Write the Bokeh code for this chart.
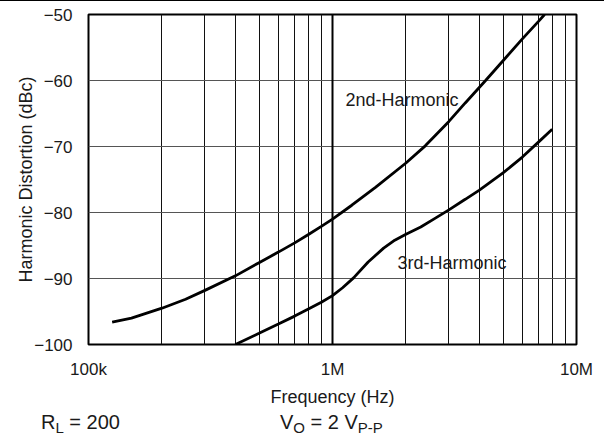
from bokeh.plotting import figure
from bokeh.models import FixedTicker, Label, Grid, Div
from bokeh.layouts import column
from bokeh.embed import file_html
from bokeh.resources import INLINE

# ---- data ----
freq_2nd = [125e3, 150e3, 200e3, 250e3, 300e3, 400e3, 500e3, 600e3, 700e3, 800e3, 900e3,
            1e6, 1.2e6, 1.5e6, 2e6, 2.4e6, 3e6, 3.5e6, 4.24e6, 5e6, 6e6, 7e6, 7.4e6]
hd2_dbc = [-96.6, -96.0, -94.5, -93.15, -91.8, -89.6, -87.6, -86.0, -84.6, -83.3, -82.1,
           -81.0, -78.9, -76.2, -72.5, -69.9, -66.2, -63.4, -60.0, -57.0, -53.7, -51.0, -50.0]

freq_3rd = [400e3, 500e3, 600e3, 700e3, 800e3, 900e3, 1e6, 1.1e6, 1.22e6, 1.4e6, 1.62e6,
            1.8e6, 2e6, 2.3e6, 2.6e6, 3e6, 3.5e6, 4e6, 5e6, 6e6, 7e6, 7.95e6]
hd3_dbc = [-100.0, -98.3, -96.9, -95.7, -94.6, -93.6, -92.6, -91.4, -89.9, -87.5, -85.4,
           -84.2, -83.3, -82.2, -81.0, -79.6, -78.0, -76.6, -74.0, -71.6, -69.3, -67.4]

x_ticks = [1e5, 1e6, 1e7]
x_tick_labels = ["100k", "1M", "10M"]
y_ticks = [-100, -90, -80, -70, -60, -50]
y_tick_labels = ["\u2212100", "\u221290", "\u221280", "\u221270", "\u221260", "\u221250"]
x_grid_ticks = [m * 10 ** e for e in (5, 6) for m in range(1, 10)] + [1e7]
x_major_grid = [1e6]
y_grid_ticks = [-90, -80, -70, -60]

FONT = "Liberation Sans"
TXT = "#1a1a1a"

p = figure(width=604, height=408, x_axis_type="log", x_range=(1e5, 1e7), y_range=(-100, -50),
           output_backend="svg", toolbar_location=None,
           min_border_left=88, min_border_right=28, min_border_top=13, min_border_bottom=64)
p.background_fill_color = "white"
p.border_fill_color = "white"
p.outline_line_color = "black"
p.outline_line_width = 2

# grids
p.xgrid.ticker = FixedTicker(ticks=x_grid_ticks)
p.xgrid.grid_line_color = "#111111"
p.xgrid.grid_line_width = 1
p.ygrid.ticker = FixedTicker(ticks=y_grid_ticks)
p.ygrid.grid_line_color = "#555555"
p.ygrid.grid_line_width = 1.2
p.add_layout(Grid(dimension=0, ticker=FixedTicker(ticks=x_major_grid),
                  grid_line_color="black", grid_line_width=2))

# axes
for ax in (p.xaxis[0], p.yaxis[0]):
    ax.axis_line_color = None
    ax.major_tick_line_color = None
    ax.minor_tick_line_color = None
    ax.major_tick_out = 0
    ax.major_tick_in = 0
    ax.minor_tick_out = 0
    ax.minor_tick_in = 0
    ax.major_label_text_font = FONT
    ax.major_label_text_font_size = "17px"
    ax.major_label_text_color = TXT
    ax.axis_label_text_font = FONT
    ax.axis_label_text_font_size = "18px"
    ax.axis_label_text_font_style = "normal"
    ax.axis_label_text_color = TXT
p.xaxis.ticker = FixedTicker(ticks=x_ticks)
p.xaxis.major_label_overrides = dict(zip(x_ticks, x_tick_labels))
p.xaxis.major_label_standoff = 15
p.xaxis.axis_label = "Frequency (Hz)"
p.xaxis.axis_label_standoff = 5
p.yaxis.ticker = FixedTicker(ticks=y_ticks)
p.yaxis.major_label_overrides = dict(zip(y_ticks, y_tick_labels))
p.yaxis.major_label_standoff = 16
p.yaxis.axis_label = "Harmonic Distortion (dBc)"
p.yaxis.axis_label_standoff = -5

# curves
p.line(freq_2nd, hd2_dbc, line_color="black", line_width=2.8)
p.line(freq_3rd, hd3_dbc, line_color="black", line_width=2.8)

# curve labels (page pixel position -> data coordinates)
FL, FR, FT, FB = 88, 576, 14, 345


def fx(px):
    return 10 ** (5 + 2 * (px - FL) / (FR - FL))


def fy(py):
    return -50 - 50 * (py - FT) / (FB - FT)


for text, px, py in (("2nd-Harmonic", 345, 100), ("3rd-Harmonic", 397, 263)):
    p.add_layout(Label(x=fx(px), y=fy(py), text=text, text_font=FONT, text_font_size="18px",
                       text_color=TXT, text_align="left", text_baseline="alphabetic"))

top_rule = Div(text='<div style="width:604px;height:1px;background:#000;"></div>',
               width=604, height=1, margin=0,
               styles={"background-color": "black", "overflow": "hidden"})

sub = 'style="font-size:15px;vertical-align:-4px;"'
cond_html = (
    '<div style="font-family:\'Liberation Sans\';font-size:20px;color:#1a1a1a;'
    'white-space:nowrap;padding-top:1px;line-height:24px;">'
    '<span style="display:inline-block;width:239px;margin-left:41px;">'
    f'R<sub {sub}>L</sub> = 200</span>'
    f'<span style="display:inline-block;">V<sub {sub}>O</sub> = 2 V<sub {sub}>P-P</sub></span>'
    '</div>'
)
conditions = Div(text=cond_html, width=604, height=29, margin=0)

layout = column(top_rule, p, conditions, spacing=0)

open("out.html", "w").write(file_html(layout, INLINE))
